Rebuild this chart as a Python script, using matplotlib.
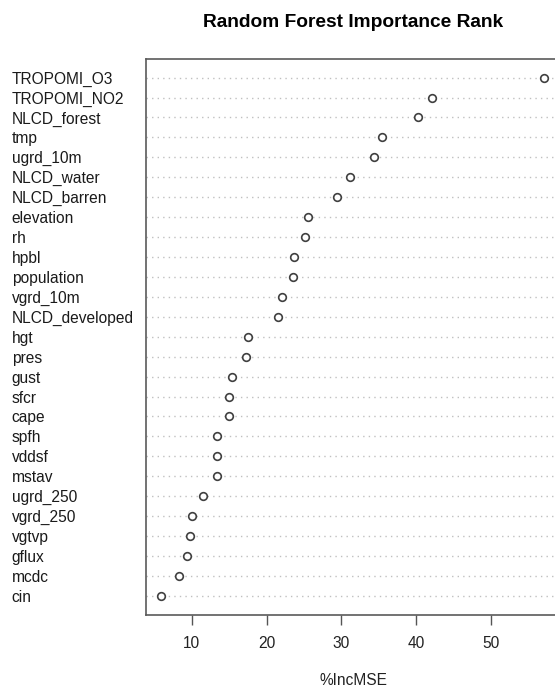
import matplotlib.pyplot as plt

plt.rcParams['font.family'] = ['Liberation Sans', 'DejaVu Sans']

# 변수 이름 (위에서 아래 순서)
variables = ['TROPOMI_O3', 'TROPOMI_NO2', 'NLCD_forest', 'tmp', 'ugrd_10m',
             'NLCD_water', 'NLCD_barren', 'elevation', 'rh', 'hpbl',
             'population', 'vgrd_10m', 'NLCD_developed', 'hgt', 'pres',
             'gust', 'sfcr', 'cape', 'spfh', 'vddsf', 'mstav', 'ugrd_250',
             'vgrd_250', 'vgtvp', 'gflux', 'mcdc', 'cin']
inc_mse = [57.1, 42.2, 40.3, 35.4, 34.4, 31.2, 29.5, 25.5, 25.2, 23.7,
           23.6, 22.1, 21.5, 17.5, 17.3, 15.4, 15.0, 15.0, 13.4, 13.4,
           13.3, 11.5, 10.0, 9.8, 9.4, 8.3, 5.9]
xticks = [10, 20, 30, 40, 50]

n = len(variables)
ypos = list(range(n, 0, -1))
fs = 11.2

fig = plt.figure(figsize=(5.55, 6.9), dpi=100)
ax = fig.add_axes([0.263, 0.109, 0.746, 0.806])

# 점선 가이드
for y in ypos:
    ax.axhline(y, color='#c0c0c0', linestyle=(0, (1, 3)), linewidth=1.0, zorder=1)

ax.plot(inc_mse, ypos, linestyle='none', marker='o', markersize=5.5,
        markerfacecolor='white', markeredgecolor='#404040', markeredgewidth=1.2, zorder=3)

ax.set_xlim(3.85, 59.3)
ax.set_ylim(0.05, n + 0.95)
ax.set_yticks(ypos)
ax.set_yticklabels(variables, fontsize=fs, ha='left', color='#1a1a1a')
ax.tick_params(axis='y', length=0, pad=0)
for lab in ax.get_yticklabels():
    lab.set_x((0.021 - 0.263) / 0.746)
ax.set_xticks(xticks)
ax.set_xticklabels([str(t) for t in xticks], fontsize=fs, color='#222222')
ax.tick_params(axis='x', length=7, width=1.0, color='#555555', pad=8)

for s in ['left', 'top', 'bottom', 'right']:
    ax.spines[s].set_color('#5a5a5a')
    ax.spines[s].set_linewidth(1.2)

ax.set_xlabel('%IncMSE', fontsize=fs, labelpad=16, color='#222222')
fig.text(0.636, 0.968, 'Random Forest Importance Rank', ha='center', va='center',
         fontsize=13.8, fontweight='bold')

fig.savefig('out.png', dpi=100)
